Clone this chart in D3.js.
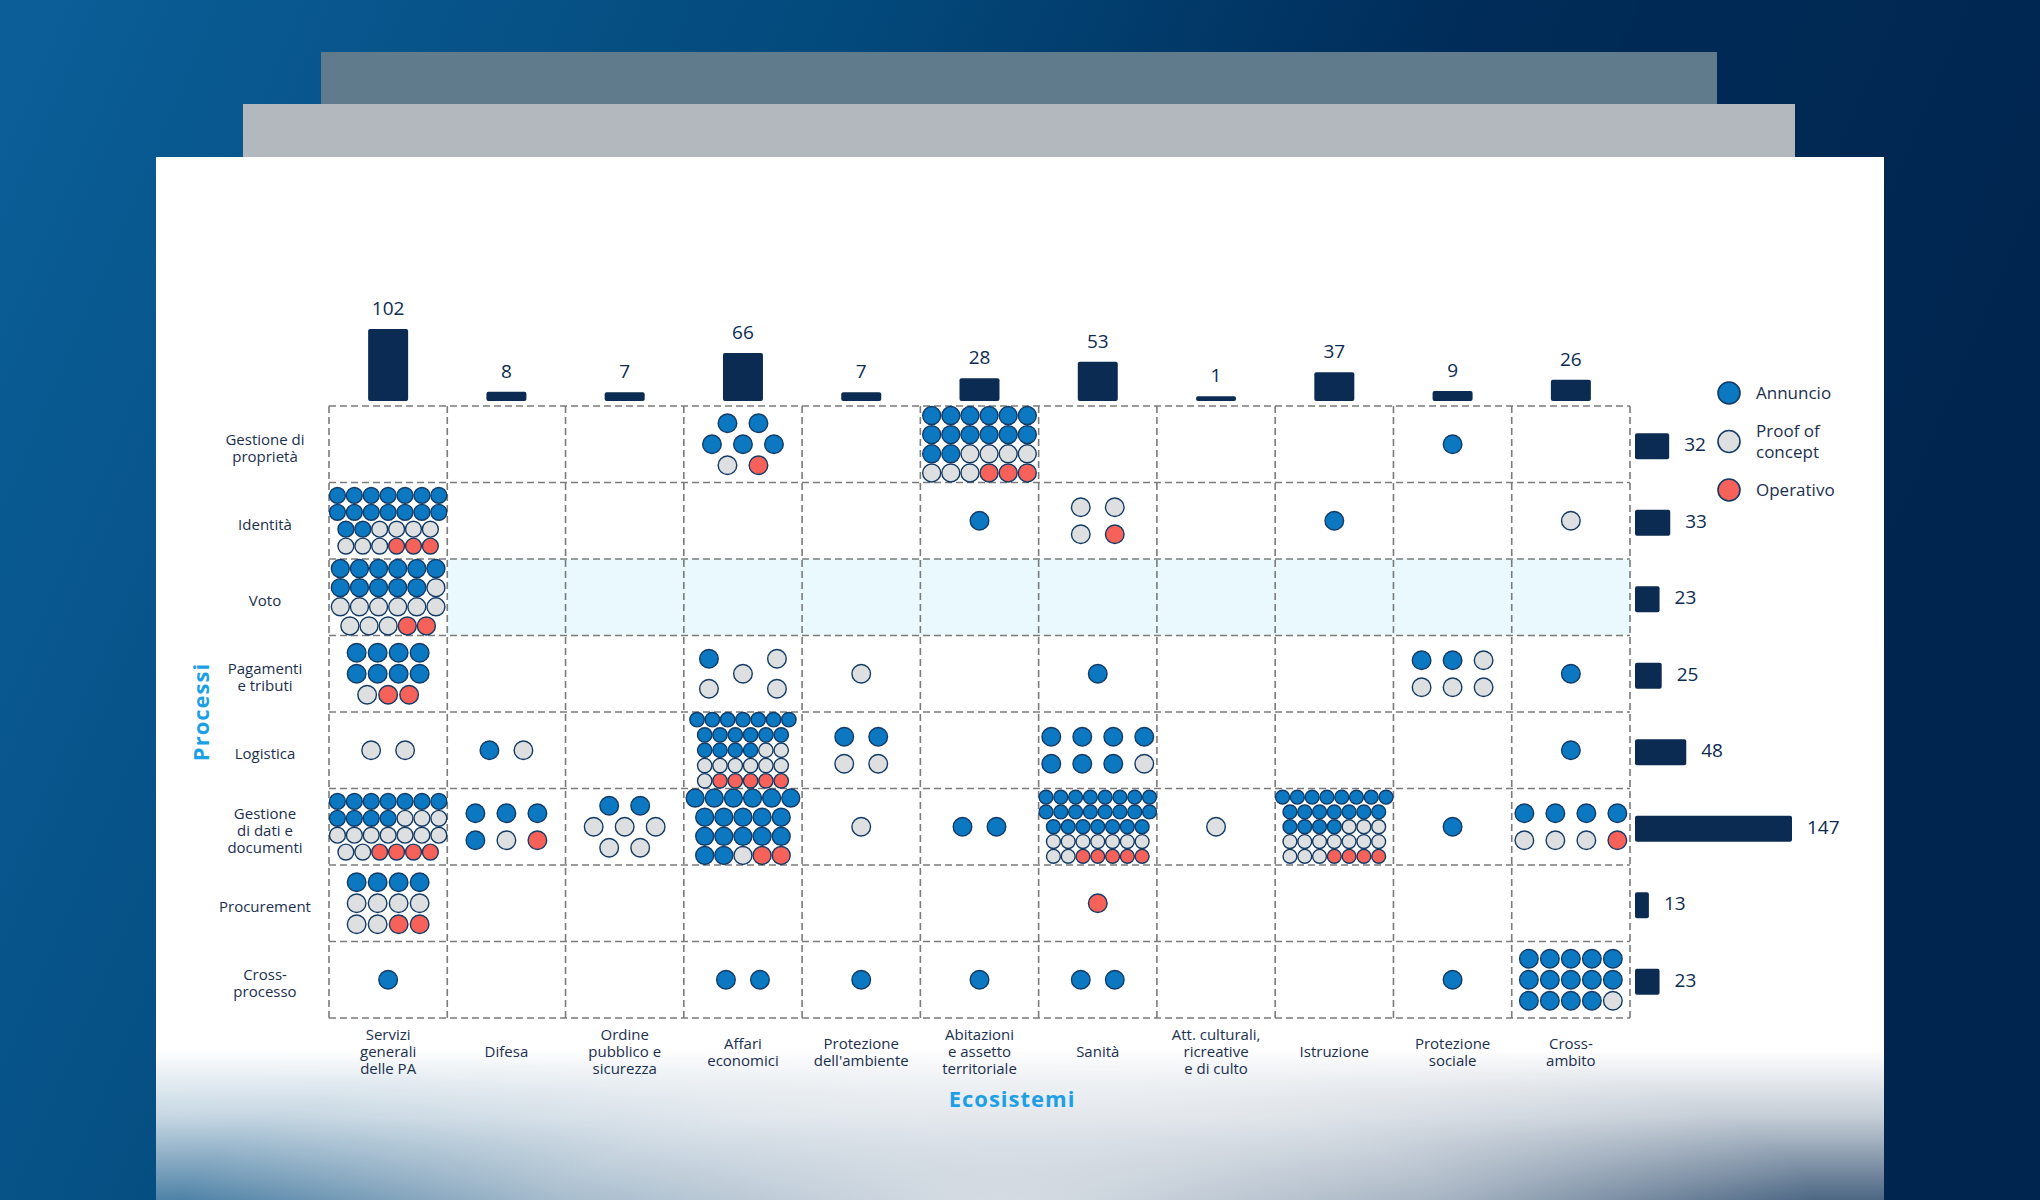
<!DOCTYPE html>
<html>
<head>
<meta charset="utf-8">
<script src="https://cdn.jsdelivr.net/npm/d3@7"></script>
<style>
  html, body { margin: 0; padding: 0; background: #00264f; }
  svg { display: block; font-family: "Open Sans", "Noto Sans", sans-serif; }
</style>
</head>
<body>
<svg id="chart" width="2040" height="1200"></svg>
<script>
// ── Data ────────────────────────────────────────────────
const ecosistemi = [
  ['Servizi', 'generali', 'delle PA'],
  ['Difesa'],
  ['Ordine', 'pubblico e', 'sicurezza'],
  ['Affari', 'economici'],
  ['Protezione', "dell'ambiente"],
  ['Abitazioni', 'e assetto', 'territoriale'],
  ['Sanità'],
  ['Att. culturali,', 'ricreative', 'e di culto'],
  ['Istruzione'],
  ['Protezione', 'sociale'],
  ['Cross-', 'ambito']
];

const processi = [
  ['Gestione di', 'proprietà'],
  ['Identità'],
  ['Voto'],
  ['Pagamenti', 'e tributi'],
  ['Logistica'],
  ['Gestione', 'di dati e', 'documenti'],
  ['Procurement'],
  ['Cross-', 'processo']
];

const stati = [['Annuncio'], ['Proof of', 'concept'], ['Operativo']];

// one row per processo, one column per ecosistema
const annuncio = [
  [ 0, 0, 0,  5, 0, 14,  0, 0,  0, 1,  0],
  [16, 0, 0,  0, 0,  1,  0, 0,  1, 0,  0],
  [11, 0, 0,  0, 0,  0,  0, 0,  0, 0,  0],
  [ 8, 0, 0,  1, 0,  0,  1, 0,  0, 2,  1],
  [ 0, 1, 0, 17, 2,  0,  7, 0,  0, 0,  1],
  [11, 4, 2, 18, 0,  2, 23, 0, 19, 1,  4],
  [ 4, 0, 0,  0, 0,  0,  0, 0,  0, 0,  0],
  [ 1, 0, 0,  2, 1,  1,  2, 0,  0, 1, 14]
];
const proof = [
  [ 0, 0, 0, 1, 0, 7, 0, 0,  0, 0, 0],
  [ 7, 0, 0, 0, 0, 0, 3, 0,  0, 0, 1],
  [10, 0, 0, 0, 0, 0, 0, 0,  0, 0, 0],
  [ 1, 0, 0, 4, 1, 0, 0, 0,  0, 4, 0],
  [ 2, 1, 0, 9, 2, 0, 1, 0,  0, 0, 0],
  [12, 1, 5, 1, 1, 0, 9, 1, 13, 0, 3],
  [ 6, 0, 0, 0, 0, 0, 0, 0,  0, 0, 0],
  [ 0, 0, 0, 0, 0, 0, 0, 0,  0, 0, 1]
];
const operativo = [
  [0, 0, 0, 1, 0, 3, 0, 0, 0, 0, 0],
  [3, 0, 0, 0, 0, 0, 1, 0, 0, 0, 0],
  [2, 0, 0, 0, 0, 0, 0, 0, 0, 0, 0],
  [2, 0, 0, 0, 0, 0, 0, 0, 0, 0, 0],
  [0, 0, 0, 5, 0, 0, 0, 0, 0, 0, 0],
  [4, 1, 0, 2, 0, 0, 5, 0, 4, 0, 1],
  [2, 0, 0, 0, 0, 0, 1, 0, 0, 0, 0],
  [0, 0, 0, 0, 0, 0, 0, 0, 0, 0, 0]
];

const HIGHLIGHT_ROW = 2;   // Voto

// ── Colours ─────────────────────────────────────────────
const NAVY = '#0c2b52';
const TEXT = '#1b2f4f';
const CYAN = '#1d9fe6';
const DOT_FILL = ['#0b78c1', '#dedfe0', '#f6625a'];
const DOT_STROKE = '#133b66';

// ── Totals (from the matrices) ──────────────────────────
const cellTotal = (r, c) => annuncio[r][c] + proof[r][c] + operativo[r][c];
const colTotals = ecosistemi.map((_, c) => d3.sum(processi, (_, r) => cellTotal(r, c)));
const rowTotals = processi.map((_, r) => d3.sum(ecosistemi, (_, c) => cellTotal(r, c)));

// ── Canvas / background ─────────────────────────────────
const svg = d3.select('#chart');
const defs = svg.append('defs');

const bgGrad = defs.append('linearGradient').attr('id', 'bg')
  .attr('x1', 0).attr('y1', 0).attr('x2', 1).attr('y2', 0.25);
[['0', '#0b5f99'], ['0.4', '#03497b'], ['0.68', '#002c59'], ['1', '#00264f']]
  .forEach(([o, c]) => bgGrad.append('stop').attr('offset', o).attr('stop-color', c));

// card fades out towards its bottom corners
const fadeV = defs.append('linearGradient').attr('id', 'fadeV')
  .attr('gradientUnits', 'userSpaceOnUse')
  .attr('x1', 0).attr('y1', 1050).attr('x2', 0).attr('y2', 1200);
fadeV.append('stop').attr('offset', 0).attr('stop-color', '#fff');
fadeV.append('stop').attr('offset', 0.45).attr('stop-color', '#c4c4c4');
fadeV.append('stop').attr('offset', 1).attr('stop-color', '#4c4c4c');

const fadeC = defs.append('radialGradient').attr('id', 'fadeC');
fadeC.append('stop').attr('offset', 0).attr('stop-color', '#fff').attr('stop-opacity', 0.8);
fadeC.append('stop').attr('offset', 0.55).attr('stop-color', '#fff').attr('stop-opacity', 0.5);
fadeC.append('stop').attr('offset', 1).attr('stop-color', '#fff').attr('stop-opacity', 0);

const mask = defs.append('mask').attr('id', 'cardMask')
  .attr('maskUnits', 'userSpaceOnUse')
  .attr('x', 0).attr('y', 0).attr('width', 2040).attr('height', 1200);
mask.append('rect').attr('x', 0).attr('y', 0).attr('width', 2040).attr('height', 1200)
  .attr('fill', 'url(#fadeV)');
mask.append('ellipse').attr('cx', 1000).attr('cy', 1215).attr('rx', 820).attr('ry', 210)
  .attr('fill', 'url(#fadeC)');

svg.append('rect').attr('width', 2040).attr('height', 1200).attr('fill', 'url(#bg)');
svg.append('rect').attr('x', 321).attr('y', 52).attr('width', 1396).attr('height', 110).attr('fill', '#607c8c');
svg.append('rect').attr('x', 243).attr('y', 104).attr('width', 1552).attr('height', 60).attr('fill', '#b2b8be');
svg.append('rect').attr('x', 156).attr('y', 157).attr('width', 1728).attr('height', 1043)
  .attr('fill', '#fff').attr('mask', 'url(#cardMask)');

// ── Scales ──────────────────────────────────────────────
const x = d3.scaleBand().domain(d3.range(ecosistemi.length)).range([329, 1630]);
const y = d3.scaleBand().domain(d3.range(processi.length)).range([406, 1018]);
const bw = x.bandwidth(), bh = y.bandwidth();
const gridTop = y.range()[0], gridBottom = y.range()[1];
const gridLeft = x.range()[0], gridRight = x.range()[1];

const colH = d3.scaleLinear().domain([0, d3.max(colTotals)]).range([4, 72]);
const rowW = d3.scaleLinear().domain([0, d3.max(rowTotals)]).range([0, 157]);

const g = svg.append('g');

// Voto highlight band
g.append('rect')
  .attr('x', x(1)).attr('y', y(HIGHLIGHT_ROW))
  .attr('width', gridRight - x(1)).attr('height', bh)
  .attr('fill', '#e9f9fe');

// Dashed grid
const vLines = d3.range(ecosistemi.length + 1).map(i => i === ecosistemi.length ? gridRight : x(i));
const hLines = d3.range(processi.length + 1).map(i => i === processi.length ? gridBottom : y(i));
g.selectAll('.vl').data(vLines).join('line').attr('class', 'vl')
  .attr('x1', d => d).attr('x2', d => d).attr('y1', gridTop).attr('y2', gridBottom);
g.selectAll('.hl').data(hLines).join('line').attr('class', 'hl')
  .attr('y1', d => d).attr('y2', d => d).attr('x1', gridLeft).attr('x2', gridRight);
g.selectAll('.vl, .hl')
  .attr('stroke', '#7b7b7b').attr('stroke-width', 1.6).attr('stroke-dasharray', '7,4');

// ── Dot layout inside a cell ────────────────────────────
function dotLayout(n, w, h) {
  if (!n) return [];
  let rowCounts, sx, sy, r;
  if (n <= 8) {
    rowCounts = ({1: [1], 2: [2], 3: [3], 4: [2, 2], 5: [2, 1, 2], 6: [3, 3], 7: [2, 3, 2], 8: [4, 4]})[n];
    sx = n >= 6 ? 31 : 34;
    sy = rowCounts.length === 2 ? 27 : (n === 5 ? 15 : 21);
    r = 9.3;
  } else {
    let best = null;
    for (let c = 1; c <= n; c++) {
      const rr = Math.ceil(n / c);
      const s = Math.min(w / c, h / rr, 21);
      if (!best || s >= best.s - 1e-9) best = { c, rr, s };
    }
    const base = Math.floor(n / best.rr), extra = n % best.rr;
    rowCounts = d3.range(best.rr).map(i => base + (i < extra ? 1 : 0));
    sx = sy = best.s;
    r = Math.min(best.s * 0.47, 9.3);
  }
  const out = [];
  rowCounts.forEach((k, i) => {
    const gap = (n === 5 && k === 2) ? sx * 2 : sx;
    for (let j = 0; j < k; j++) {
      out.push({
        dx: (j - (k - 1) / 2) * gap,
        dy: (i - (rowCounts.length - 1) / 2) * sy,
        r
      });
    }
  });
  return out;
}

const dots = [];
processi.forEach((_, ri) => {
  ecosistemi.forEach((_, ci) => {
    const cats = [
      ...Array(annuncio[ri][ci]).fill(0),
      ...Array(proof[ri][ci]).fill(1),
      ...Array(operativo[ri][ci]).fill(2)
    ];
    const pos = dotLayout(cats.length, bw, bh);
    cats.forEach((cat, k) => dots.push({ ri, ci, cat, ...pos[k] }));
  });
});

g.selectAll('.dot').data(dots).join('circle').attr('class', 'dot')
  .attr('cx', d => x(d.ci) + bw / 2 + d.dx)
  .attr('cy', d => y(d.ri) + bh / 2 + d.dy)
  .attr('r', d => d.r)
  .attr('fill', d => DOT_FILL[d.cat])
  .attr('stroke', DOT_STROKE).attr('stroke-width', 1.4);

// ── Column totals (top bars) ────────────────────────────
const barBase = gridTop - 5;
g.selectAll('.cbar').data(colTotals).join('rect').attr('class', 'cbar')
  .attr('x', (d, i) => x(i) + bw / 2 - 20)
  .attr('y', d => barBase - colH(d))
  .attr('width', 40).attr('height', d => colH(d))
  .attr('rx', 2).attr('fill', NAVY);
g.selectAll('.clab').data(colTotals).join('text').attr('class', 'clab')
  .attr('x', (d, i) => x(i) + bw / 2)
  .attr('y', d => barBase - colH(d) - 14)
  .attr('text-anchor', 'middle').attr('font-size', 19).attr('fill', NAVY)
  .text(d => d);

// ── Row totals (right bars) ─────────────────────────────
const barLeft = gridRight + 5;
g.selectAll('.rbar').data(rowTotals).join('rect').attr('class', 'rbar')
  .attr('x', barLeft)
  .attr('y', (d, i) => y(i) + bh / 2 - 11)
  .attr('width', d => rowW(d)).attr('height', 26)
  .attr('rx', 2).attr('fill', NAVY);
g.selectAll('.rlab').data(rowTotals).join('text').attr('class', 'rlab')
  .attr('x', d => barLeft + rowW(d) + 15)
  .attr('y', (d, i) => y(i) + bh / 2 + 2)
  .attr('dominant-baseline', 'middle').attr('font-size', 19).attr('fill', NAVY)
  .text(d => d);

// ── Category labels ─────────────────────────────────────
function multiline(sel, lines, lh) {
  lines.forEach((t, i) => {
    sel.append('tspan').attr('x', sel.attr('x'))
      .attr('dy', i === 0 ? -(lines.length - 1) / 2 * lh : lh)
      .text(t);
  });
}

processi.forEach((lines, i) => {
  const t = g.append('text')
    .attr('x', 265).attr('y', y(i) + bh / 2 + 9)
    .attr('text-anchor', 'middle').attr('font-size', 15).attr('fill', TEXT);
  multiline(t, lines, 17);
});

ecosistemi.forEach((lines, i) => {
  const t = g.append('text')
    .attr('x', x(i) + bw / 2).attr('y', 1057)
    .attr('text-anchor', 'middle').attr('font-size', 15).attr('fill', TEXT);
  multiline(t, lines, 17);
});

// Axis titles
g.append('text')
  .attr('transform', `translate(209,${(gridTop + gridBottom) / 2}) rotate(-90)`)
  .attr('text-anchor', 'middle').attr('font-size', 22).attr('font-weight', 700)
  .attr('fill', CYAN).attr('letter-spacing', 1).text('Processi');
g.append('text')
  .attr('x', 1012).attr('y', 1107)
  .attr('text-anchor', 'middle').attr('font-size', 22).attr('font-weight', 700)
  .attr('fill', CYAN).attr('letter-spacing', 1).text('Ecosistemi');

// ── Legend ──────────────────────────────────────────────
const legY = d3.scalePoint().domain(d3.range(stati.length)).range([393, 490]);
const leg = g.selectAll('.leg').data(stati).join('g').attr('class', 'leg')
  .attr('transform', (d, i) => `translate(1729,${legY(i)})`);
leg.append('circle').attr('r', 11)
  .attr('fill', (d, i) => DOT_FILL[i])
  .attr('stroke', DOT_STROKE).attr('stroke-width', 1.6);
leg.each(function (lines) {
  const t = d3.select(this).append('text')
    .attr('x', 27).attr('y', 6)
    .attr('font-size', 17).attr('fill', TEXT);
  multiline(t, lines, 21);
});
</script>
</body>
</html>
